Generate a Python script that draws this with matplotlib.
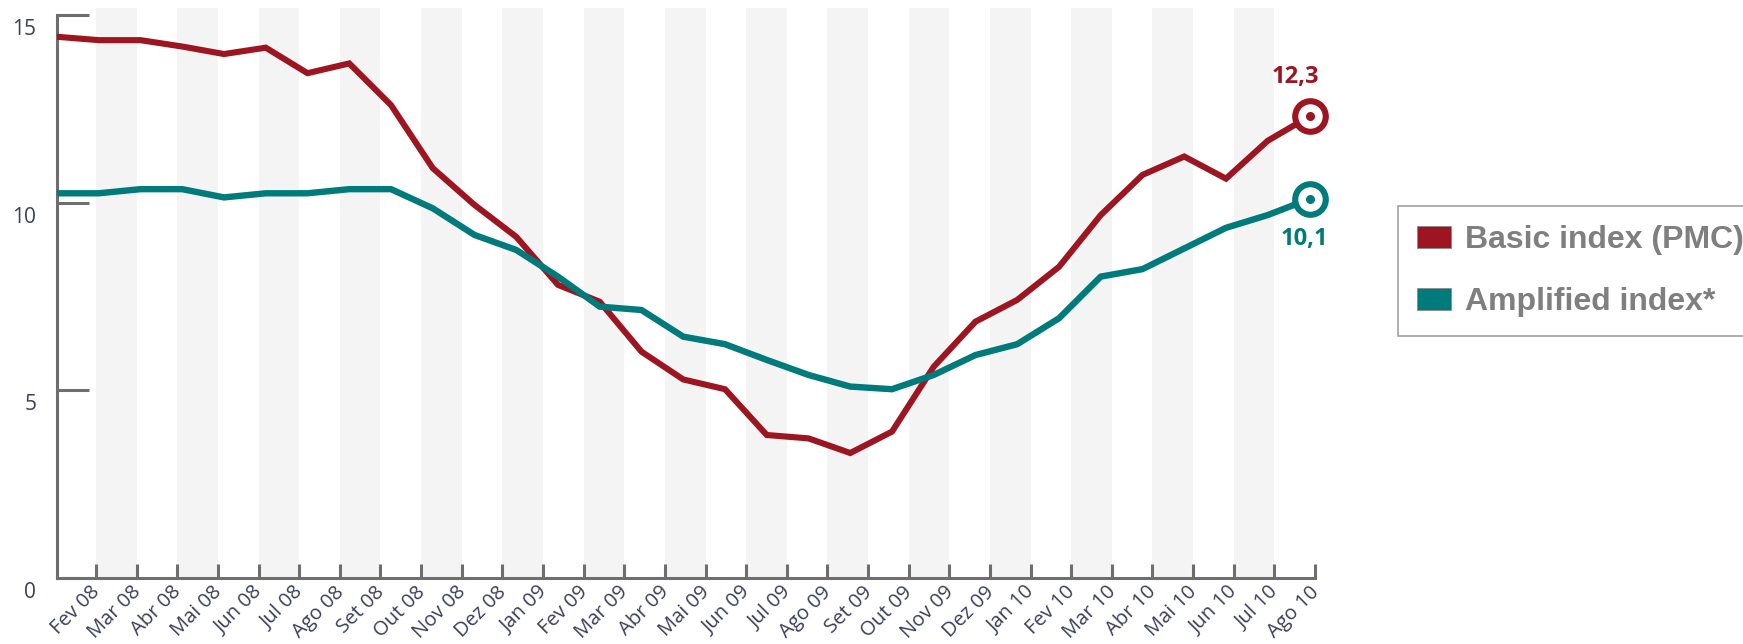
import numpy as np
import matplotlib
matplotlib.use("Agg")
import matplotlib.pyplot as plt
from matplotlib.patches import Patch
from matplotlib.transforms import ScaledTranslation

months = ["Fev 08", "Mar 08", "Abr 08", "Mai 08", "Jun 08", "Jul 08", "Ago 08", "Set 08",
          "Out 08", "Nov 08", "Dez 08", "Jan 09", "Fev 09", "Mar 09", "Abr 09", "Mai 09",
          "Jun 09", "Jul 09", "Ago 09", "Set 09", "Out 09", "Nov 09", "Dez 09", "Jan 10",
          "Fev 10", "Mar 10", "Abr 10", "Mai 10", "Jun 10", "Jul 10", "Ago 10"]
basic = [14.42, 14.33, 14.33, 14.16, 13.96, 14.13, 13.45, 13.71, 12.60, 10.92,
         9.94, 9.09, 7.81, 7.36, 6.03, 5.29, 5.03, 3.81, 3.72, 3.33,
         3.90, 5.63, 6.83, 7.41, 8.29, 9.67, 10.74, 11.23, 10.64, 11.65, 12.3]
amplified = [10.25, 10.25, 10.36, 10.36, 10.14, 10.25, 10.25, 10.36, 10.36, 9.85,
             9.14, 8.74, 8.03, 7.23, 7.14, 6.43, 6.23, 5.81, 5.41, 5.10,
             5.03, 5.41, 5.94, 6.23, 6.92, 8.03, 8.23, 8.78, 9.33, 9.67, 10.1]
series_labels = ["Basic index (PMC)", "Amplified index*"]
end_labels = ["12,3", "10,1"]
yticks = [0, 5, 10, 15]

RED = "#9c1520"
TEAL = "#007a7a"
AXC = "#6e6e6e"
TXT = "#3c3f5c"

W, H = 1743, 644
fig = plt.figure(figsize=(W / 100, H / 100), dpi=100)
x0, x1 = 57, 1315
yb, yt = 578, 7.5
ax = fig.add_axes([x0 / W, 1 - yb / H, (x1 - x0) / W, (yb - yt) / H])

n = len(months)
x = np.arange(n)
step = 41.75
xmax = (x1 - x0) / step
ax.set_xlim(0, xmax)
ax.set_ylim(0, 15.2)

tick_pos = np.linspace((96 - x0) / step, xmax, n)

# alternating background bands
for i in range(0, n - 1, 2):
    ax.axvspan(tick_pos[i], tick_pos[i + 1], color="#f4f4f4", lw=0, zorder=0)

ax.plot(x, basic, color=RED, lw=4.4, solid_joinstyle="miter", zorder=3)
ax.plot(x, amplified, color=TEAL, lw=4.6, solid_joinstyle="miter", zorder=3)

for ser, col, lab, off in [(basic, RED, end_labels[0], (-10, 28)),
                           (amplified, TEAL, end_labels[1], (-4, -29))]:
    ax.plot([x[-1]], [ser[-1]], marker="o", ms=22, mfc="white", mec=col, mew=4.4,
            zorder=5, clip_on=False)
    ax.plot([x[-1]], [ser[-1]], marker="o", ms=5.5, mfc=col, mec=col, zorder=6,
            clip_on=False)
    ax.annotate(lab, (x[-1], ser[-1]), xytext=off, textcoords="offset points",
                ha="center", va="center", color=col, fontsize=17, fontweight="bold",
                family="Open Sans")

for s in ["top", "right"]:
    ax.spines[s].set_visible(False)
for s in ["left", "bottom"]:
    ax.spines[s].set_color(AXC)
    ax.spines[s].set_linewidth(2.2)
ax.spines["left"].set_bounds(0, 15)

ax.set_yticks(yticks)
ax.set_yticklabels([str(v) for v in yticks], family="Open Sans", fontsize=15, color=TXT)
ax.tick_params(axis="y", direction="in", length=23, width=2.2, color=AXC, pad=15)
for lbl in ax.get_yticklabels():
    lbl.set_transform(lbl.get_transform() + ScaledTranslation(0, -12 / 100, fig.dpi_scale_trans))

ax.set_xticks(tick_pos)
ax.set_xticklabels(months, rotation=45, ha="right", va="top", rotation_mode="anchor",
                   family="Open Sans", fontsize=14.5, color=TXT)
ax.tick_params(axis="x", direction="in", length=10, width=2.2, color=AXC, pad=3)
for lbl in ax.get_xticklabels():
    lbl.set_transform(lbl.get_transform() + ScaledTranslation(-6 / 100, 0, fig.dpi_scale_trans))

handles = [Patch(facecolor=RED, edgecolor="#8a8a8a", lw=0.6),
           Patch(facecolor=TEAL, edgecolor="#8a8a8a", lw=0.6)]
leg = fig.legend(handles, series_labels, loc="upper left",
                 bbox_to_anchor=(1398 / W, 1 - 206 / H), bbox_transform=fig.transFigure,
                 frameon=True, fancybox=False, edgecolor="#808080", borderaxespad=0,
                 borderpad=0.6, handlelength=1.06, handleheight=0.69, handletextpad=0.44,
                 labelspacing=1.0,
                 prop={"family": "Liberation Sans", "weight": "bold", "size": 23})
leg.get_frame().set_linewidth(1.1)
for t in leg.get_texts():
    t.set_color("#7f7f7f")

fig.savefig("out.png", dpi=100)
